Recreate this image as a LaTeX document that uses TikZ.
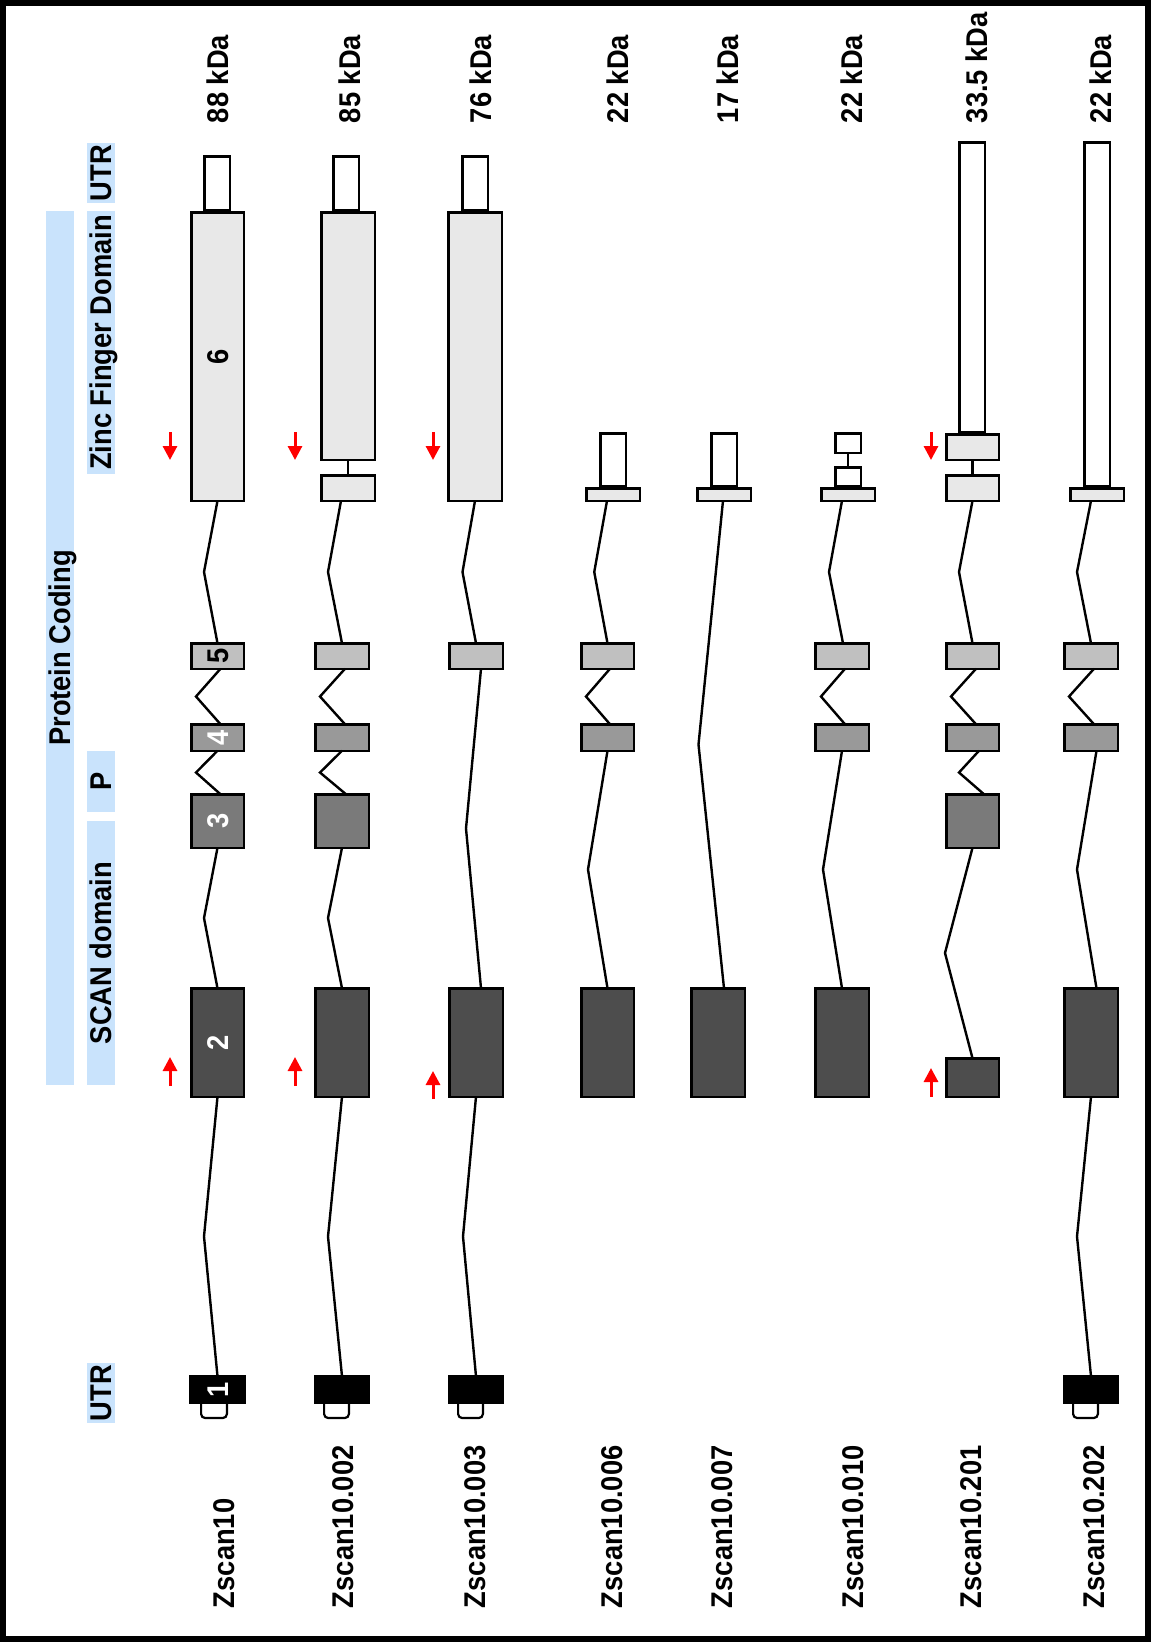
\documentclass[tikz,border=0pt]{standalone}
\usepackage{fontspec}
\setmainfont{Liberation Sans}[FakeStretch=0.91]
\usetikzlibrary{arrows.meta,calc}
\definecolor{bandblue}{RGB}{201,227,252}
\definecolor{exsix}{HTML}{E8E8E8}
\definecolor{exfive}{HTML}{C0C0C0}
\definecolor{exfour}{HTML}{999999}
\definecolor{exthree}{HTML}{7A7A7A}
\definecolor{extwo}{HTML}{4D4D4D}
\tikzset{
  exon/.style={draw=black, line width=2.5pt, inner sep=0pt, outer sep=0pt, rectangle},
  utrfive/.style={draw=black, fill=white, line width=2.2pt, inner sep=0pt, outer sep=0pt, rectangle, rounded corners=4pt},
  intron/.style={draw=black, line width=2.4pt, line join=miter},
  conn/.style={draw=black, line width=2.5pt},
  lbl/.style={font=\fontsize{30}{30}\selectfont\bfseries, inner sep=0pt, outer sep=0pt, text height=21.5pt, text depth=0pt, rotate=90},
  band/.style={fill=bandblue, inner sep=0pt, outer sep=0pt, rotate=90, font=\fontsize{30}{30}\selectfont\bfseries, text height=21.5pt, text depth=0pt, minimum height=28pt},
  redarrow/.style={draw=red, line width=3pt, -{Triangle[width=14pt,length=14pt]}}
}
\newcommand\exon[6]{%
  \pgfmathsetmacro\exonW{#4-#2-2.5}\pgfmathsetmacro\exonH{#5-#3-2.5}%
  \pgfmathsetmacro\exonX{(#2+#4)/2}\pgfmathsetmacro\exonY{(#3+#5)/2}%
  \node[exon, fill=#6, minimum width=\exonW pt, minimum height=\exonH pt] (#1) at (\exonX,\exonY) {};}
\newcommand\utrf[4]{%
  \pgfmathsetmacro\exonW{#3-#2-2.2}\pgfmathsetmacro\exonX{(#2+#3)/2}%
  \node[utrfive, minimum width=\exonW pt, minimum height=24pt] (#1) at (\exonX,#4) {};}
\newcommand\intron[5]{%
  \draw[intron] ($(#1.south)+(#3,0)$) -- ($(#1.south)!0.5!(#2.north)+(#4,0)$) -- ($(#2.north)+(#5,0)$);}
\begin{document}
\begin{tikzpicture}[x=1pt,y=-1pt]
\useasboundingbox (0,0) rectangle (1151,1642);
\node[draw=black, line width=6pt, minimum width=1145pt, minimum height=1636pt, inner sep=0pt] (frame) at (575.5,821) {};

% blue bands and labels
\node[band, minimum width=874pt] (pc) at (60,648) {Protein Coding};
\node[band, minimum width=60pt] (utrT) at (101,173) {UTR};
\node[band, minimum width=263pt] (zfd) at (101,342.5) {Zinc Finger Domain};
\node[band, minimum width=61pt] (pl) at (101,781.5) {P};
\node[band, minimum width=264pt] (scan) at (101,953) {SCAN domain};
\node[band, minimum width=60pt] (utrB) at (101,1393) {UTR};

% Row 1 : Zscan10
\exon{aU3}{203}{155}{231}{211}{white}
\exon{aE6}{190}{211}{245}{502}{exsix}
\exon{aE5}{190}{642}{245}{670}{exfive}
\exon{aE4}{190}{723}{245}{752}{exfour}
\exon{aE3}{190}{793}{245}{849}{exthree}
\exon{aE2}{190}{987}{245}{1098}{extwo}
\utrf{aU5}{200}{228}{1406}
\exon{aE1}{189}{1375}{246}{1404}{black}
\intron{aE6}{aE5}{0}{-13.5}{0}
\intron{aE5}{aE4}{3}{-21.5}{3}
\intron{aE4}{aE3}{0}{-21.5}{3}
\intron{aE3}{aE2}{0}{-13.5}{0}
\intron{aE2}{aE1}{0}{-13.5}{0}
\node[lbl] (l6) at (aE6) {6};
\node[lbl] (l5) at (aE5) {5};
\node[lbl, text=white] (l4) at (aE4) {4};
\node[lbl, text=white] (l3) at (aE3) {3};
\node[lbl, text=white] (l2) at (aE2) {2};
\node[lbl, text=white] (l1) at (aE1) {1};

% Row 2 : Zscan10.002
\exon{bU3}{332}{155}{360}{211}{white}
\exon{bE6a}{320}{211}{376}{461}{exsix}
\exon{bE6b}{320}{474}{376}{502}{exsix}
\exon{bE5}{314}{642}{370}{670}{exfive}
\exon{bE4}{314}{723}{370}{752}{exfour}
\exon{bE3}{314}{793}{370}{849}{exthree}
\exon{bE2}{314}{987}{370}{1098}{extwo}
\utrf{bU5}{323}{350}{1406}
\exon{bE1}{314}{1375}{370}{1404}{black}
\draw[conn] (bE6a.south) -- (bE6b.north);
\intron{bE6b}{bE5}{-7}{-17}{0}
\intron{bE5}{bE4}{3}{-22}{3}
\intron{bE4}{bE3}{0}{-22}{4}
\intron{bE3}{bE2}{0}{-14}{0}
\intron{bE2}{bE1}{0}{-14}{0}

% Row 3 : Zscan10.003
\exon{cU3}{461}{155}{489}{211}{white}
\exon{cE6}{447}{211}{503}{502}{exsix}
\exon{cE5}{448}{642}{504}{670}{exfive}
\exon{cE2}{448}{987}{504}{1098}{extwo}
\utrf{cU5}{457}{484}{1406}
\exon{cE1}{448}{1375}{504}{1404}{black}
\intron{cE6}{cE5}{0}{-13}{0}
\intron{cE5}{cE2}{5}{-10}{5}
\intron{cE2}{cE1}{0}{-13}{0}

% Row 4 : Zscan10.006
\exon{dU3}{599}{432}{627}{487}{white}
\exon{dS}{585}{487}{641}{502}{exsix}
\exon{dE5}{580}{642}{635}{670}{exfive}
\exon{dE4}{580}{723}{635}{752}{exfour}
\exon{dE2}{580}{987}{635}{1098}{extwo}
\intron{dS}{dE5}{-6}{-16}{0}
\intron{dE5}{dE4}{2.5}{-21.5}{2.5}
\intron{dE4}{dE2}{0}{-19.5}{0}

% Row 5 : Zscan10.007
\exon{eU3}{710}{432}{738}{487}{white}
\exon{eS}{696}{487}{752}{502}{exsix}
\exon{eE2}{690}{987}{746}{1098}{extwo}
\intron{eS}{eE2}{-1}{-22.5}{6}

% Row 6 : Zscan10.010
\exon{fU3a}{834}{432}{862}{454}{white}
\exon{fU3b}{834}{466}{862}{487}{white}
\exon{fS}{820}{487}{876}{502}{exsix}
\exon{fE5}{814}{642}{870}{670}{exfive}
\exon{fE4}{814}{723}{870}{752}{exfour}
\exon{fE2}{814}{987}{870}{1098}{extwo}
\draw[conn] (fU3a.south) -- (fU3b.north);
\intron{fS}{fE5}{-6}{-16}{1}
\intron{fE5}{fE4}{3}{-21}{3}
\intron{fE4}{fE2}{0}{-19}{0}

% Row 7 : Zscan10.201
\exon{gU3}{958}{141}{986}{433}{white}
\exon{gE6a}{945}{433}{1000}{461}{exsix}
\exon{gE6b}{945}{474}{1000}{502}{exsix}
\exon{gE5}{945}{642}{1000}{670}{exfive}
\exon{gE4}{945}{723}{1000}{752}{exfour}
\exon{gE3}{945}{793}{1000}{849}{exthree}
\exon{gE2}{945}{1057}{1000}{1098}{extwo}
\draw[conn] (gE6a.south) -- (gE6b.north);
\intron{gE6b}{gE5}{0}{-13.5}{0}
\intron{gE5}{gE4}{3.5}{-21.5}{3.5}
\intron{gE4}{gE3}{6.5}{-13.5}{11.5}
\intron{gE3}{gE2}{0}{-27.5}{0}

% Row 8 : Zscan10.202
\exon{hU3}{1083}{141}{1111}{487}{white}
\exon{hS}{1069}{487}{1125}{502}{exsix}
\exon{hE5}{1063}{642}{1119}{670}{exfive}
\exon{hE4}{1063}{723}{1119}{752}{exfour}
\exon{hE2}{1063}{987}{1119}{1098}{extwo}
\utrf{hU5}{1072}{1099}{1406}
\exon{hE1}{1063}{1375}{1119}{1404}{black}
\intron{hS}{hE5}{-6}{-17}{0}
\intron{hE5}{hE4}{3}{-22}{3}
\intron{hE4}{hE2}{5.5}{-14}{5.5}
\intron{hE2}{hE1}{0}{-14}{0}

% red arrows (stop codons)
\coordinate (sa1) at (170,432); \coordinate (sb1) at (170,460);
\coordinate (sa2) at (295,432); \coordinate (sb2) at (295,460);
\coordinate (sa3) at (433,432); \coordinate (sb3) at (433,460);
\coordinate (sa7) at (931,432); \coordinate (sb7) at (931,460);
\draw[redarrow] (sa1) -- (sb1);
\draw[redarrow] (sa2) -- (sb2);
\draw[redarrow] (sa3) -- (sb3);
\draw[redarrow] (sa7) -- (sb7);
% red arrows (start codons)
\coordinate (ta1) at (170,1086); \coordinate (tb1) at (170,1057);
\coordinate (ta2) at (295,1086); \coordinate (tb2) at (295,1057);
\coordinate (ta3) at (433,1099); \coordinate (tb3) at (433,1071);
\coordinate (ta7) at (931,1097); \coordinate (tb7) at (931,1068);
\draw[redarrow] (ta1) -- (tb1);
\draw[redarrow] (ta2) -- (tb2);
\draw[redarrow] (ta3) -- (tb3);
\draw[redarrow] (ta7) -- (tb7);

% molecular weights
\node[lbl, anchor=west] (k1) at (218,123) {88 kDa};
\node[lbl, anchor=west] (k2) at (349.5,123) {85 kDa};
\node[lbl, anchor=west] (k3) at (481,123) {76 kDa};
\node[lbl, anchor=west] (k4) at (617.5,123) {22 kDa};
\node[lbl, anchor=west] (k5) at (727.5,123) {17 kDa};
\node[lbl, anchor=west] (k6) at (852,123) {22 kDa};
\node[lbl, anchor=west] (k7) at (976.5,123) {33.5 kDa};
\node[lbl, anchor=west] (k8) at (1100.5,123) {22 kDa};

% transcript names
\node[lbl, anchor=west] (n1) at (224,1608) {Zscan10};
\node[lbl, anchor=west] (n2) at (343,1608) {Zscan10.002};
\node[lbl, anchor=west] (n3) at (474.5,1608) {Zscan10.003};
\node[lbl, anchor=west] (n4) at (611.5,1608) {Zscan10.006};
\node[lbl, anchor=west] (n5) at (722,1608) {Zscan10.007};
\node[lbl, anchor=west] (n6) at (852.5,1608) {Zscan10.010};
\node[lbl, anchor=west] (n7) at (970.5,1608) {Zscan10.201};
\node[lbl, anchor=west] (n8) at (1094,1608) {Zscan10.202};
\end{tikzpicture}
\end{document}
